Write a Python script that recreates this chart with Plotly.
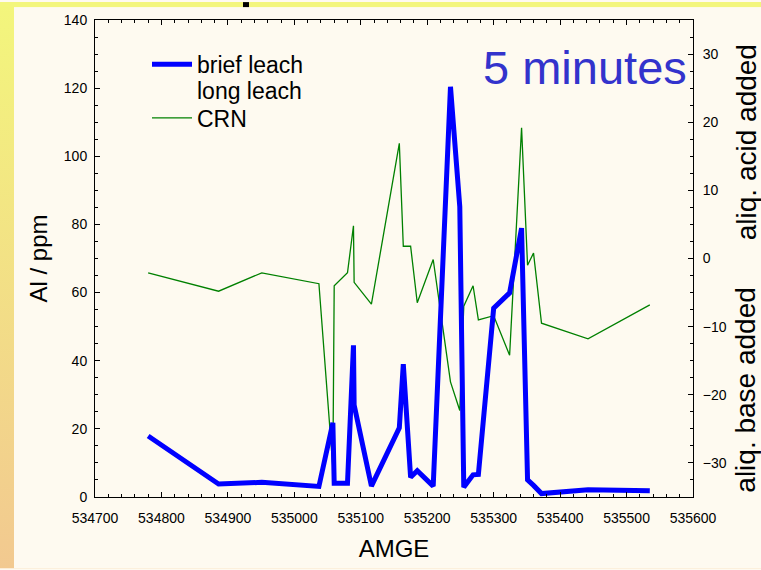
import plotly.graph_objects as go
import urllib.parse

# shared sample positions (AMGE)
amge = [534780, 534886, 534951, 535037, 535058, 535060, 535080, 535089, 535090,
        535116, 535158, 535164, 535175, 535185, 535209, 535235, 535249, 535255,
        535269, 535277, 535300, 535324, 535342, 535351, 535360, 535372, 535442, 535535]
brief_leach = [17.9, 3.8, 4.3, 3.1, 21.8, 4.0, 4.0, 44.5, 27.0, 3.2, 20.3, 39.0, 5.8,
               7.7, 3.2, 120.4, 85.2, 2.9, 6.5, 6.6, 55.4, 59.9, 78.9, 5.0, 3.4, 1.0, 2.1, 1.8]
crn = [-2.1, -4.8, -2.1, -3.7, -30.7, -4.0, -2.1, 4.8, -3.5, -6.7, 16.9, 1.8, 1.8,
       -6.5, -0.15, -18.1, -22.3, -7.0, -4.0, -9.0, -8.4, -14.2, 19.2, -1.0, 0.8, -9.5, -11.8, -6.8]

FONT = "Liberation Sans, Arial, sans-serif"
W, H = 761, 570
ML, MR, MT, MB = 95, 68, 18, 72
PW, PH = W - ML - MR, H - MT - MB

fig = go.Figure()
fig.add_trace(go.Scatter(x=amge, y=brief_leach, name="brief leach", mode="lines",
                         line=dict(color="#0000FF", width=5), yaxis="y2", legend="legend"))
fig.add_trace(go.Scatter(x=[None], y=[None], name="long leach", mode="lines",
                         line=dict(color="rgba(0,0,0,0)", width=1), yaxis="y2", legend="legend2"))
fig.add_trace(go.Scatter(x=amge, y=crn, name="CRN", mode="lines",
                         line=dict(color="#008000", width=1.3), yaxis="y", legend="legend3"))

svg = (
    "<svg xmlns='http://www.w3.org/2000/svg' width='761' height='570' viewBox='0 0 761 570' preserveAspectRatio='none'>"
    "<defs><linearGradient id='g' x1='0' y1='0' x2='0' y2='1'>"
    "<stop offset='0' stop-color='#F3F67C'/><stop offset='1' stop-color='#F2C990'/>"
    "</linearGradient></defs>"
    "<rect x='0' y='0' width='761' height='570' fill='url(#g)'/>"
    "<rect x='0' y='0' width='761' height='5' fill='#F3F67C'/>"
    "<rect x='14' y='5' width='747' height='565' fill='#FEFAF0'/>"
    "<rect x='243' y='0' width='6' height='5' fill='#000000'/>"
    "</svg>"
)
src = "data:image/svg+xml;charset=utf-8," + urllib.parse.quote(svg)

fig.add_layout_image(dict(source=src, xref="paper", yref="paper",
                          x=-ML / PW, y=1 + MT / PH, sizex=W / PW, sizey=H / PH,
                          xanchor="left", yanchor="top", sizing="stretch", layer="below"))

tickfont = dict(family=FONT, size=14, color="black")
legfont = dict(family=FONT, size=23, color="black")
leg_x = (147 - ML) / PW


def leg(top_px):
    return dict(x=leg_x, y=(H - MB - top_px) / PH, xanchor="left", yanchor="top",
                bgcolor="rgba(0,0,0,0)", font=legfont, itemwidth=40)


fig.update_layout(
    width=W, height=H,
    margin=dict(l=ML, r=MR, t=MT, b=MB),
    paper_bgcolor="#FEFAF0", plot_bgcolor="white",
    font=dict(family=FONT, color="black"),
    showlegend=True,
    legend=leg(41), legend2=leg(67), legend3=leg(95),
    xaxis=dict(range=[534700, 535600], tick0=534700, dtick=100, tickformat="d",
               showline=True, linecolor="black", linewidth=1, mirror="ticks",
               ticks="inside", ticklen=5, tickcolor="black", showgrid=False, zeroline=False,
               tickfont=tickfont, ticklabelstandoff=8,
               minor=dict(dtick=20, ticks="inside", ticklen=3, tickcolor="black", showgrid=False),
               title=dict(text="AMGE", font=dict(family=FONT, size=24, color="black"), standoff=15)),
    yaxis2=dict(range=[0, 140], tick0=0, dtick=20, overlaying="y", side="left",
                showline=True, linecolor="black", linewidth=1,
                ticks="inside", ticklen=5, tickcolor="black", showgrid=False, zeroline=False,
                tickfont=tickfont, ticklabelstandoff=4,
                minor=dict(dtick=5, ticks="inside", ticklen=3, tickcolor="black", showgrid=False)),
    yaxis=dict(range=[-35, 35], tick0=0, dtick=10, side="right",
               showline=True, linecolor="black", linewidth=1,
               ticks="inside", ticklen=5, tickcolor="black", showgrid=False, zeroline=False,
               tickfont=tickfont, ticklabelstandoff=6,
               minor=dict(dtick=2.5, ticks="inside", ticklen=3, tickcolor="black", showgrid=False)),
)

big = dict(family=FONT, size=24, color="black")
side = dict(family=FONT, size=28, color="black")
fig.add_annotation(text="Al / ppm", xref="paper", yref="paper", x=(38 - ML) / PW, y=(H - MB - 258) / PH,
                   xanchor="center", yanchor="middle", textangle=-90, showarrow=False, font=big)
fig.add_annotation(text="aliq. acid added", xref="paper", yref="paper",
                   x=(746 - ML) / PW, y=(H - MB - 141) / PH, xanchor="center", yanchor="middle",
                   textangle=-90, showarrow=False, font=side)
fig.add_annotation(text="aliq. base added", xref="paper", yref="paper",
                   x=(746 - ML) / PW, y=(H - MB - 390) / PH, xanchor="center", yanchor="middle",
                   textangle=-90, showarrow=False, font=side)
fig.add_annotation(text="5 minutes", xref="paper", yref="paper",
                   x=(585 - ML) / PW, y=(H - MB - 66) / PH, xanchor="center", yanchor="middle",
                   showarrow=False, font=dict(family=FONT, size=47, color="#3333CC"))

fig.write_html("out.html")
